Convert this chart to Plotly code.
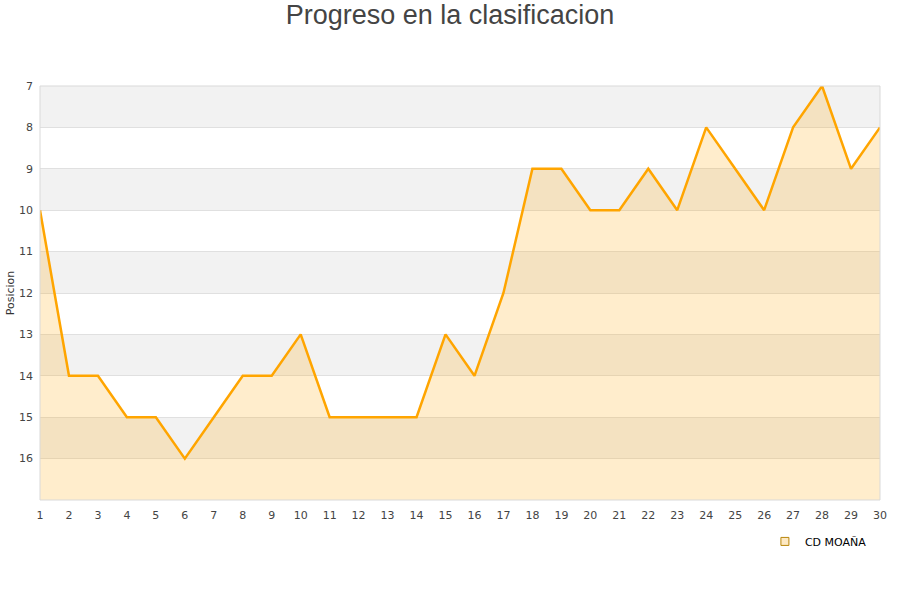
import plotly.graph_objects as go

jornadas = list(range(1, 31))
posiciones = [10, 14, 14, 15, 15, 16, 15, 14, 14, 13, 15, 15, 15, 15, 13,
              14, 12, 9, 9, 10, 10, 9, 10, 8, 9, 10, 8, 7, 9, 8]
team = "CD MOAÑA"
y_ticks = list(range(7, 17))
y_bottom = 17
y_top = 7

fig = go.Figure()

# baseline for area fill
fig.add_trace(go.Scatter(x=jornadas, y=[y_bottom] * len(jornadas), mode="lines",
                         line=dict(width=0, color="rgba(0,0,0,0)"),
                         showlegend=False, hoverinfo="skip"))
fig.add_trace(go.Scatter(x=jornadas, y=posiciones, mode="lines",
                         line=dict(color="#ffa500", width=2.5),
                         fill="tonexty", fillcolor="rgba(255,165,0,0.2)",
                         showlegend=False))
# legend entry
fig.add_trace(go.Scatter(x=[None], y=[None], mode="markers", name=team,
                         marker=dict(symbol="square", size=8,
                                     color="#fde9c4",
                                     line=dict(color="#b8860b", width=1))))

shapes = []
for k in range(y_top, y_bottom, 2):
    shapes.append(dict(type="rect", xref="paper", yref="y", x0=0, x1=1,
                       y0=k, y1=k + 1, fillcolor="#f2f2f2", line=dict(width=0),
                       layer="below"))
shapes.append(dict(type="rect", xref="paper", yref="paper", x0=0, x1=1, y0=0, y1=1,
                   line=dict(color="#d9d9d9", width=1), fillcolor="rgba(0,0,0,0)",
                   layer="above"))

fig.update_layout(
    width=900, height=600,
    margin=dict(l=40, r=20, t=86, b=100, autoexpand=False),
    paper_bgcolor="white", plot_bgcolor="white",
    title=dict(text="Progreso en la clasificacion", x=0.5, xanchor="center",
               y=0.975, yanchor="middle", automargin=False,
               font=dict(family="Liberation Sans, Arial", size=27, color="#444444")),
    font=dict(family="DejaVu Sans", size=11, color="#444444"),
    shapes=shapes,
    showlegend=True,
    legend=dict(x=0.863, y=-0.065, xanchor="left", yanchor="top",
                font=dict(size=11, color="#000000"), bgcolor="rgba(0,0,0,0)"),
)
fig.update_xaxes(range=[1, 30], tickmode="array", tickvals=jornadas,
                 showgrid=False, zeroline=False, showline=False, ticks="",
                 automargin=False, ticklabelstandoff=7,
                 tickfont=dict(size=11, color="#444444"))
fig.update_yaxes(range=[y_bottom, y_top], tickmode="array", tickvals=y_ticks,
                 showgrid=True, gridcolor="#e0e0e0", gridwidth=1,
                 zeroline=False, showline=False, ticks="", ticklabelstandoff=6,
                 automargin=False,
                 title=dict(text="Posicion", font=dict(size=11, color="#333333"),
                            standoff=2),
                 tickfont=dict(size=11, color="#444444"))

fig.write_html("out.html", config={"displayModeBar": False},
               post_script="document.body.style.margin='0';")
